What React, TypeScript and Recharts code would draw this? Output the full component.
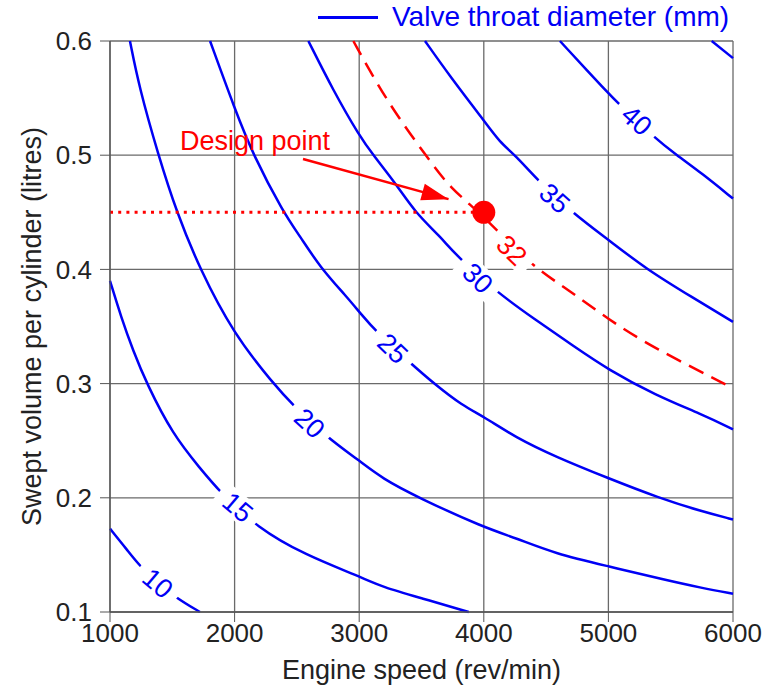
import { ComposedChart, Line, Scatter, XAxis, YAxis, CartesianGrid, Label } from 'recharts'

// contour points: [engine speed rev/min, swept volume litres]
const curve10: [number, number][] = [[1000, 0.173], [1147, 0.153], [1241, 0.14], [1380, 0.126], [1522, 0.113], [1722, 0.1]]
const curve15: [number, number][] = [
  [1000, 0.39], [1090, 0.358], [1185, 0.329], [1294, 0.3], [1506, 0.255], [1722, 0.226], [1883, 0.205],
  [2180, 0.174], [2565, 0.15], [3006, 0.131], [3183, 0.122], [3504, 0.112], [3879, 0.1],
]
const curve20: [number, number][] = [
  [1160, 0.6], [1233, 0.56], [1388, 0.5], [1535, 0.45], [1722, 0.4], [1990, 0.344], [2310, 0.3], [2470, 0.281],
  [2740, 0.253], [2995, 0.233], [3183, 0.217], [3478, 0.2], [4000, 0.174], [4253, 0.165], [4574, 0.151],
  [5002, 0.14], [5457, 0.128], [5751, 0.121], [6000, 0.116],
]
const curve25: [number, number][] = [
  [1803, 0.6], [2003, 0.54], [2150, 0.5], [2391, 0.45], [2525, 0.429], [2685, 0.402], [2900, 0.376], [3006, 0.362],
  [3140, 0.345], [3410, 0.318], [3611, 0.299], [3825, 0.281], [4000, 0.271], [4253, 0.253], [4574, 0.236],
  [5002, 0.217], [5403, 0.2], [5751, 0.188], [6000, 0.181],
]
const curve30: [number, number][] = [
  [2592, 0.6], [2790, 0.557], [3006, 0.516], [3113, 0.5], [3301, 0.474], [3448, 0.45], [3648, 0.429], [3790, 0.411],
  [4093, 0.381], [4413, 0.356], [4718, 0.333], [5002, 0.312], [5376, 0.29], [5751, 0.273], [6000, 0.26],
]
const curve32: [number, number][] = [
  [2953, 0.6], [3140, 0.563], [3327, 0.531], [3541, 0.499], [3729, 0.471], [4000, 0.447], [4360, 0.405],
  [4681, 0.382], [5002, 0.356], [5350, 0.332], [6000, 0.296],
]
const curve35: [number, number][] = [
  [3528, 0.6], [3729, 0.569], [3996, 0.531], [4130, 0.511], [4253, 0.5], [4440, 0.477], [4718, 0.449],
  [4999, 0.426], [5307, 0.4], [5681, 0.375], [6000, 0.354],
]
const curve40: [number, number][] = [[4611, 0.6], [4999, 0.554], [5093, 0.544], [5361, 0.516], [5549, 0.5], [5751, 0.484], [6000, 0.462]]
const curve45: [number, number][] = [[5829, 0.6], [6000, 0.585]]

const blueCurves = [curve10, curve15, curve20, curve25, curve30, curve35, curve40, curve45]

// contour labels: diameter (mm), where the label sits on its curve
const labelDiameters = [10, 15, 20, 25, 30, 32, 35, 40]
const labelSpeeds = [1385, 2027, 2605, 3271, 3953, 4226, 4571, 5229]
const labelVolumes = [0.1254, 0.192, 0.2655, 0.331, 0.3925, 0.417, 0.4625, 0.5308]
const labelAngles = [40, 40, 43, 44, 44, 44, 42, 42]

const designPoint = { n: 4000, v: 0.45 }
const arrowFrom = { n: 2549, v: 0.4967 }
const arrowTo = { n: 3717, v: 0.4615 }
const designText = { n: 1562, v: 0.5046 }

const speedTicks = [1000, 2000, 3000, 4000, 5000, 6000]
const speedMinor = [1500, 2500, 3500, 4500, 5500]
const volumeTicks = [0.1, 0.2, 0.3, 0.4, 0.5, 0.6]
const volumeMinor = [0.15, 0.25, 0.35, 0.45, 0.55]

const BLUE = '#0000f5'
const RED = '#ff0000'
const FONT = '"Liberation Sans", Arial, sans-serif'

const rows = (pts: [number, number][]) => pts.map(([n, v]) => ({ n, v }))

const labelRows = labelDiameters.map((d, i) => ({
  n: labelSpeeds[i],
  v: labelVolumes[i],
  text: String(d),
  angle: labelAngles[i],
  color: d === 32 ? RED : BLUE,
}))

function ContourLabel(props: any) {
  const { cx, cy, payload } = props
  return (
    <g transform={`translate(${cx},${cy}) rotate(${payload.angle})`}>
      <rect x={-24} y={-13} width={48} height={26} fill="#fff" />
      <text textAnchor="middle" dy="0.36em" fontSize={27} fontFamily={FONT} fill={payload.color}>
        {payload.text}
      </text>
    </g>
  )
}

function ArrowHead(props: any) {
  const { cx, cy, index } = props
  if (index !== 1) return <g key={`a${index}`} />
  return (
    <g key="head" transform={`translate(${cx},${cy}) rotate(15.5)`}>
      <polygon points="0,0 -27,-8.5 -27,8.5" fill={RED} />
    </g>
  )
}

function DesignText(props: any) {
  const { cx, cy } = props
  return (
    <text x={cx} y={cy} fontSize={27} fontFamily={FONT} fill={RED}>
      Design point
    </text>
  )
}

function DesignDot(props: any) {
  const { cx, cy } = props
  return <circle cx={cx} cy={cy} r={11.5} fill={RED} />
}

const tickStyle = { fontSize: 26, fill: '#222', fontFamily: FONT }

export default function App() {
  return (
    <div style={{ position: 'relative', width: 764, height: 695, background: '#fff', fontFamily: FONT }}>
      <style>{'body{margin:0}'}</style>
      <div style={{ position: 'absolute', left: 318, top: 2, display: 'flex', alignItems: 'center', zIndex: 2 }}>
        <span style={{ display: 'inline-block', width: 60, height: 3, background: BLUE, marginRight: 14 }} />
        <span style={{ color: BLUE, fontSize: 28, lineHeight: '30px' }}>Valve throat diameter (mm)</span>
      </div>
      <ComposedChart width={764} height={695} margin={{ top: 41, right: 31, left: 0, bottom: 0 }}>
        <CartesianGrid stroke="#6a6a6a" strokeWidth={1.3} />
        <XAxis
          xAxisId="minor"
          type="number"
          dataKey="n"
          domain={[1000, 6000]}
          ticks={speedMinor}
          height={0}
          tickSize={5}
          axisLine={false}
          tickLine={{ stroke: '#555' }}
          tickFormatter={() => ''}
        />
        <XAxis
          type="number"
          dataKey="n"
          domain={[1000, 6000]}
          ticks={speedTicks}
          height={83}
          tickSize={10}
          tickMargin={2}
          tick={tickStyle}
          axisLine={{ stroke: '#555', strokeWidth: 1.3 }}
          tickLine={{ stroke: '#555' }}
        >
          <Label value="Engine speed (rev/min)" position="insideBottom" offset={16} style={{ fontSize: 27, fill: '#222', fontFamily: FONT }} />
        </XAxis>
        <YAxis
          yAxisId="minor"
          type="number"
          domain={[0.1, 0.6]}
          ticks={volumeMinor}
          width={0}
          tickSize={5}
          axisLine={false}
          tickLine={{ stroke: '#555' }}
          tickFormatter={() => ''}
        />
        <YAxis
          type="number"
          domain={[0.1, 0.6]}
          ticks={volumeTicks}
          width={110}
          tickSize={10}
          tickMargin={8}
          tick={tickStyle}
          tickFormatter={(v: number) => v.toFixed(1)}
          axisLine={{ stroke: '#555', strokeWidth: 1.3 }}
          tickLine={{ stroke: '#555' }}
        >
          <Label
            value="Swept volume per cylinder (litres)"
            angle={-90}
            position="insideLeft"
            offset={31}
            style={{ fontSize: 27, fill: '#222', fontFamily: FONT, textAnchor: 'middle' }}
          />
        </YAxis>

        {blueCurves.map((c, i) => (
          <Line
            key={i}
            data={rows(c)}
            dataKey="v"
            type="basis"
            stroke={BLUE}
            strokeWidth={2.5}
            dot={false}
            activeDot={false}
            isAnimationActive={false}
          />
        ))}
        <Line
          data={rows(curve32)}
          dataKey="v"
          type="basis"
          stroke={RED}
          strokeWidth={2.5}
          strokeDasharray="16 9"
          dot={false}
          activeDot={false}
          isAnimationActive={false}
        />
        <Scatter data={labelRows} dataKey="v" shape={ContourLabel} isAnimationActive={false} />
        <Line
          data={[{ n: 1000, v: designPoint.v }, designPoint]}
          dataKey="v"
          type="linear"
          stroke={RED}
          strokeWidth={3}
          strokeDasharray="3 5.2"
          dot={false}
          activeDot={false}
          isAnimationActive={false}
        />
        <Line
          data={[arrowFrom, arrowTo]}
          dataKey="v"
          type="linear"
          stroke={RED}
          strokeWidth={2.5}
          dot={ArrowHead}
          activeDot={false}
          isAnimationActive={false}
        />
        <Scatter data={[designText]} dataKey="v" shape={DesignText} isAnimationActive={false} />
        <Scatter data={[designPoint]} dataKey="v" shape={DesignDot} isAnimationActive={false} />
      </ComposedChart>
    </div>
  )
}
